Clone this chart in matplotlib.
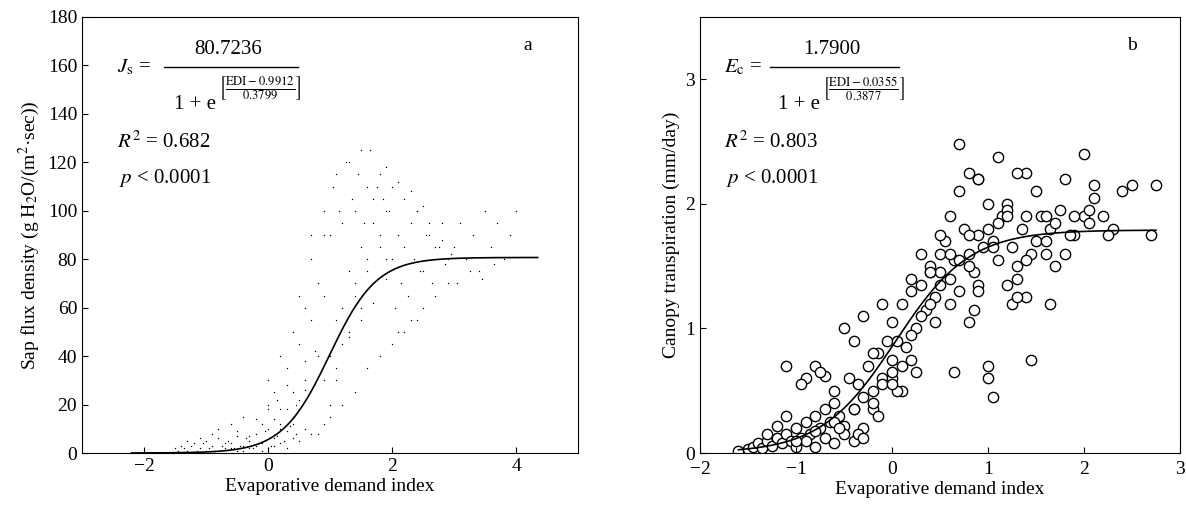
import numpy as np
import matplotlib
matplotlib.use("Agg")
import matplotlib.pyplot as plt

plt.rcParams['font.family'] = ['Liberation Serif', 'DejaVu Serif']
plt.rcParams['mathtext.fontset'] = 'stix'

# Panel a: sap flux density points (estimated subset)
a_x = [-1.5,-1.4,-1.3,-1.2,-1.1,-1.0,-0.9,-0.8,-0.7,-0.6,-0.5,-0.4,-0.3,-0.2,-0.1,0.0,0.1,0.2,0.3,0.4,
       -1.45,-1.35,-1.25,-1.15,-1.05,-0.95,-0.85,-0.75,-0.65,-0.55,-0.45,-0.35,-0.25,-0.15,-0.05,0.05,0.15,0.25,0.35,0.45,
       -1.3,-1.1,-0.9,-0.7,-0.5,-0.3,-0.1,0.1,0.3,0.5,-1.2,-1.0,-0.8,-0.6,-0.4,-0.2,0.0,0.2,0.4,0.6,
       -0.8,-0.6,-0.4,-0.2,0.0,0.2,0.4,0.6,-0.5,-0.3,-0.1,0.1,0.3,0.5,0.7,
       0.0,0.1,0.2,0.3,0.4,0.5,0.6,0.7,0.8,0.9,0.0,0.15,0.3,0.45,0.6,0.75,0.9,0.2,0.4,0.6,0.8,0.5,0.7,0.9,
       1.0,1.1,1.2,1.3,1.4,1.5,1.6,1.7,1.8,1.9,1.0,1.1,1.2,1.3,1.4,1.5,1.6,1.7,1.8,1.9,
       1.05,1.15,1.25,1.35,1.45,1.55,1.65,1.75,1.85,1.95,1.0,1.2,1.4,1.6,1.8,1.1,1.3,1.5,1.7,1.9,
       2.0,2.1,2.2,2.3,2.4,2.5,2.6,2.7,2.8,2.9,2.05,2.15,2.25,2.35,2.45,2.55,2.65,2.75,2.85,2.95,
       2.0,2.2,2.4,2.6,2.8,2.1,2.3,2.5,2.7,2.9,3.0,3.1,3.2,3.3,3.4,3.5,3.6,3.7,3.8,3.9,4.0,3.05,3.25,3.45,3.65,
       0.8,0.9,1.0,1.2,1.4,1.6,1.8,2.0,2.2,2.4,0.7,0.9,1.1,1.3,1.5,1.7,1.9,2.1,2.3,2.5]
a_y = [2,3,1,4,2,5,3,6,2,4,7,3,5,8,4,10,6,12,9,15,
       1,2,3,1,4,2,1,3,5,2,3,6,2,4,9,3,7,5,11,8,
       5,6,8,4,9,7,12,14,18,22,0,1,0,2,1,3,2,4,6,10,
       10,12,15,14,20,18,25,30,1,2,1,3,2,5,8,
       30,25,40,35,50,45,60,55,70,65,18,22,28,20,38,42,30,10,12,26,40,65,80,90,
       40,55,60,75,70,85,80,95,90,100,20,30,45,50,65,60,75,70,85,80,
       110,100,120,105,115,95,125,110,105,100,90,95,100,110,115,35,48,55,62,72,
       80,90,85,95,100,75,90,85,95,80,60,70,65,80,75,90,70,85,78,82,
       110,105,100,95,88,50,55,60,65,70,85,95,80,90,75,100,85,95,80,90,100,70,75,72,78,
       8,12,15,20,25,35,40,45,50,55,90,100,115,120,125,105,118,112,108,102]

# Panel b: canopy transpiration points (estimated)
b_x = [-1.6,-1.5,-1.45,-1.4,-1.35,-1.3,-1.25,-1.2,-1.15,-1.1,-1.05,-1.0,-0.95,-0.9,-0.85,-0.8,-0.75,-0.7,-0.65,-0.6,
       -1.3,-1.2,-1.1,-1.0,-0.9,-0.8,-0.7,-0.6,-0.55,-0.5,-0.45,-0.4,-0.35,-0.3,-0.25,-0.2,-0.15,-0.1,-0.05,0.0,
       -0.9,-0.8,-0.7,-0.6,-0.5,-0.4,-0.3,-0.2,-0.1,0.0,0.05,0.1,0.15,0.2,0.25,0.3,0.35,0.4,0.45,0.5,
       -0.5,-0.4,-0.3,-0.2,-0.1,0.0,0.1,0.2,0.3,0.4,0.5,0.55,0.6,0.65,0.7,0.75,0.8,0.85,0.9,0.95,
       0.0,0.1,0.2,0.3,0.4,0.5,0.6,0.7,0.8,0.9,1.0,1.05,1.1,1.15,1.2,1.25,1.3,1.35,1.4,1.45,
       0.5,0.6,0.7,0.8,0.9,1.0,1.1,1.2,1.3,1.4,1.5,1.55,1.6,1.65,1.7,1.75,1.8,1.9,2.0,2.1,
       0.8,0.9,1.0,1.1,1.2,1.3,1.4,1.5,1.6,1.7,1.8,1.9,2.0,2.1,2.2,2.3,2.4,2.5,2.7,2.75,
       -1.1,-0.95,-0.75,-0.55,-0.35,-0.15,0.05,0.25,0.45,0.65,0.85,1.05,1.25,1.45,1.65,1.85,2.05,2.25,
       -0.4,-0.2,0.0,0.2,0.4,0.6,0.8,1.0,1.2,1.4,0.7,0.9,1.05,1.3,1.6,2.05,-1.0,-0.8,-0.6,-0.3]
b_y = [0.02,0.03,0.05,0.08,0.04,0.1,0.06,0.12,0.08,0.15,0.1,0.2,0.12,0.25,0.15,0.3,0.2,0.35,0.25,0.4,
       0.15,0.22,0.3,0.05,0.1,0.18,0.12,0.5,0.3,0.22,0.6,0.35,0.55,0.45,0.7,0.5,0.8,0.6,0.9,0.75,
       0.6,0.7,0.62,0.25,0.15,0.1,0.2,0.35,0.55,1.05,0.9,1.2,0.85,1.3,1.0,1.35,1.15,1.45,1.25,1.6,
       1.0,0.9,1.1,0.8,1.2,0.6,0.7,0.95,1.1,1.5,1.35,1.7,1.4,1.55,1.3,1.8,1.6,1.45,1.75,1.65,
       0.65,0.5,1.4,1.6,1.2,1.75,1.9,2.1,1.5,1.35,1.8,1.7,1.55,1.9,2.0,1.65,1.4,1.8,1.25,1.6,
       1.45,1.2,1.55,1.05,1.3,0.7,1.85,1.95,1.5,2.25,1.7,1.9,1.6,1.8,1.5,1.95,2.2,1.75,1.9,2.05,
       2.25,2.2,2.0,2.38,1.9,2.25,1.55,2.1,1.7,1.85,1.6,1.9,2.4,2.15,1.9,1.8,2.1,2.15,1.75,2.15,
       0.7,0.55,0.65,0.2,0.15,0.3,0.5,0.65,1.05,0.65,1.15,0.45,1.2,0.75,1.2,1.75,1.85,1.75,
       0.35,0.4,0.55,0.75,1.45,1.6,1.75,0.6,1.35,1.9,2.48,2.2,1.65,1.25,1.9,1.95,0.1,0.05,0.08,0.12]

Js_p = (80.7236, 0.9912, 0.3799)
Ec_p = (1.7900, 0.0355, 0.3877)

def sig(x, p):
    return p[0] / (1 + np.exp(-(x - p[1]) / p[2]))

fig = plt.figure(figsize=(11.86, 5.32), dpi=100)
ax1 = fig.add_axes([82/1186, 1-453/532, 496/1186, 436/532])
ax2 = fig.add_axes([700/1186, 1-453/532, 480/1186, 436/532])

ax1.scatter(a_x, a_y, s=4, c='k', marker='.', linewidths=0)
xa = np.linspace(-2.2, 4.35, 300)
ax1.plot(xa, sig(xa, Js_p), 'k-', lw=1.2)
ax1.set_xlim(-3, 5); ax1.set_ylim(0, 180)
ax1.set_xticks([-2, 0, 2, 4]); ax1.set_xticklabels(['−2', '0', '2', '4'])
ax1.set_yticks(range(0, 181, 20))
ax1.set_xlabel('Evaporative demand index', fontsize=14, labelpad=2)
ax1.set_ylabel('Sap flux density (g H$_2$O/(m$^2$·sec))', fontsize=14)

ax2.scatter(b_x, b_y, s=55, facecolors='white', edgecolors='k', linewidths=1.0)
xb = np.linspace(-1.6, 2.75, 300)
ax2.plot(xb, sig(xb, Ec_p), 'k-', lw=1.2)
ax2.set_xlim(-2, 3); ax2.set_ylim(0, 3.5)
ax2.set_xticks([-2, -1, 0, 1, 2, 3]); ax2.set_xticklabels(['−2', '−1', '0', '1', '2', '3'])
ax2.set_yticks([0, 1, 2, 3])
ax2.set_xlabel('Evaporative demand index', fontsize=14, labelpad=2)
ax2.set_ylabel('Canopy transpiration (mm/day)', fontsize=14)

def formula(ax, x0, lhs, num, c1, c2, letter, r2):
    T = ax.transAxes
    ax.text(x0, 0.885, lhs + ' =', transform=T, fontsize=15, va='center')
    ax.text(x0 + 0.225, 0.925, num, transform=T, fontsize=15, va='center', ha='center')
    ax.plot([x0 + 0.095, x0 + 0.365], [0.885, 0.885], 'k-', lw=1, transform=T)
    ax.text(x0 + 0.2, 0.80, '1 + e', transform=T, fontsize=15, va='center', ha='right')
    ax.text(x0 + 0.205, 0.835,
            r'$\left[\frac{\mathrm{EDI}-' + c1 + r'}{' + c2 + r'}\right]$',
            transform=T, fontsize=13, va='center', ha='left')
    ax.text(0.89, 0.935, letter, transform=T, fontsize=14, ha='left', va='center')
    ax.text(x0, 0.70, r'$R^2$ = ' + r2, transform=T, fontsize=15)
    ax.text(x0 + 0.005, 0.62, r'$p$ < 0.0001', transform=T, fontsize=15)

formula(ax1, 0.07, r'$J_{\rm s}$', '80.7236', '0.9912', '0.3799', 'a', '0.682')
formula(ax2, 0.05, r'$E_{\rm c}$', '1.7900', '0.0355', '0.3877', 'b', '0.803')

for ax in (ax1, ax2):
    ax.tick_params(direction='in', labelsize=14, length=4)
ax2.tick_params(axis='x', pad=6)
fig.savefig('out.png', dpi=100)
